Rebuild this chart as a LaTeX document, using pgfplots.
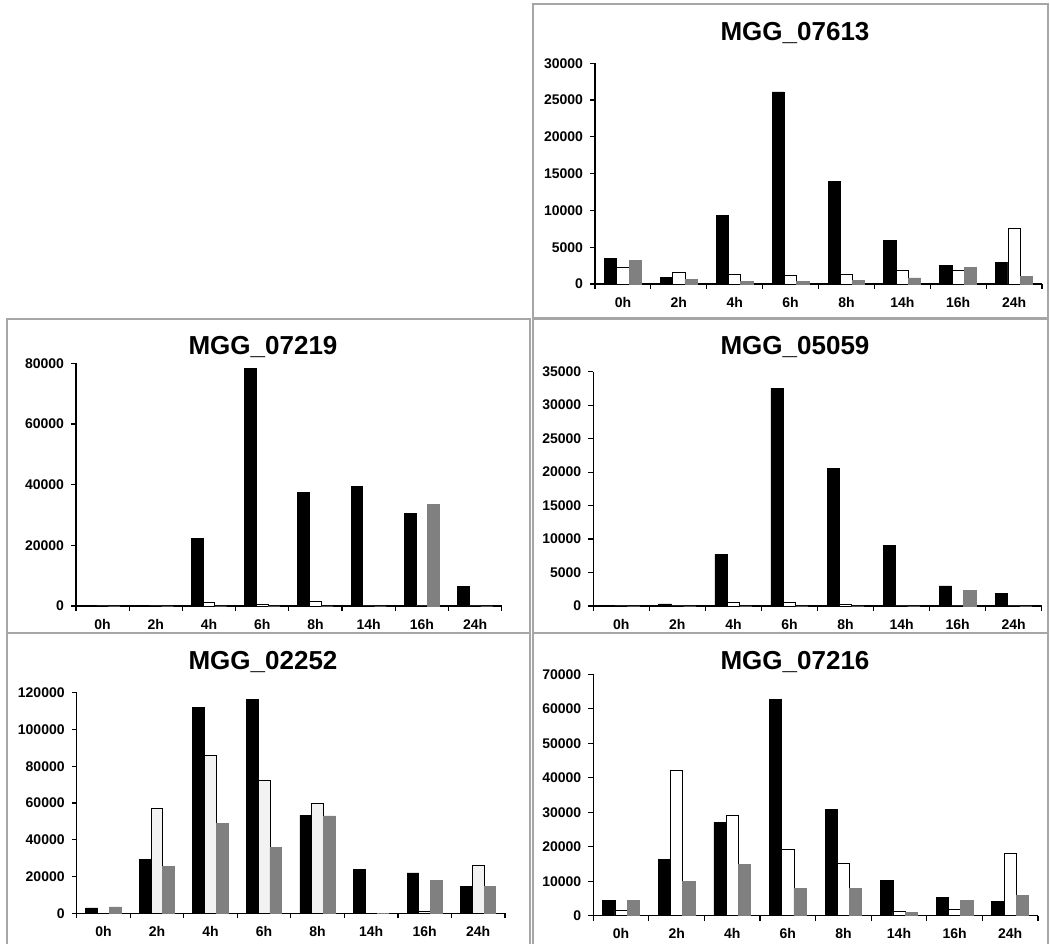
\documentclass[border=0pt]{standalone}
\usepackage{fontspec}
\setmainfont{Liberation Sans}
\usepackage{pgfplots}
\pgfplotsset{compat=1.18}
\definecolor{barGray}{HTML}{808080}
\definecolor{lightBar}{HTML}{F2F2F2}
\definecolor{frameGray}{HTML}{A6A6A6}

\pgfplotsset{
  panel/.style={
    scale only axis, anchor=south west,
    axis lines=left, axis line style={-, line width=0.75pt},
    xmin=-0.5, xmax=7.5, ymin=0,
    xtick={-0.5,0.5,...,7.5}, x tick label as interval,
    xticklabels={0h,2h,4h,6h,8h,14h,16h,24h},
    tick align=outside, major tick length=2.5pt,
    tick style={black, line width=0.6pt},
    ticklabel style={font=\bfseries\fontsize{7}{8}\selectfont, text=black},
    xticklabel style={yshift=-0.5pt},
    scaled y ticks=false,
    yticklabel style={/pgf/number format/fixed, /pgf/number format/precision=0,
      /pgf/number format/1000 sep={}, /pgf/number format/assume math mode=true},
    ybar, bar width=0.22, clip=false,
  },
  blk/.style={fill=black, draw=black, line width=0.4pt, bar shift=-0.22},
  wht/.style={fill=white, draw=black, line width=0.4pt, bar shift=0},
  gry/.style={fill=barGray, draw=barGray, line width=0.4pt, bar shift=0.22},
}

\begin{document}
\begin{tikzpicture}
\path[use as bounding box] (0,0) rectangle (525pt,471.5pt);

% MGG_07613
\begin{axis}[panel, at={(297.5pt,329.5pt)}, width=223.5pt, height=110.35pt,
  ymax=30000, ytick={0,5000,...,30000}]
\addplot[blk] coordinates {(0,3500)(1,860)(2,9290)(3,26100)(4,13910)(5,5890)(6,2580)(7,2900)};
\addplot[wht] coordinates {(0,2220)(1,1540)(2,1360)(3,1220)(4,1360)(5,1810)(6,1810)(7,7610)};
\addplot[gry] coordinates {(0,3170)(1,630)(2,320)(3,320)(4,540)(5,820)(6,2310)(7,1000)};
\end{axis}

% MGG_07219
\begin{axis}[panel, at={(38pt,168.5pt)}, width=212.85pt, height=121.35pt,
  ymax=80000, ytick={0,20000,...,80000}]
\addplot[blk] coordinates {(0,0)(1,0)(2,22300)(3,78350)(4,37470)(5,39340)(6,30550)(7,6370)};
\addplot[wht] coordinates {(0,0)(1,0)(2,1100)(3,550)(4,1430)(5,0)(6,0)(7,0)};
\addplot[gry] coordinates {(0,0)(1,0)(2,0)(3,0)(4,0)(5,0)(6,33500)(7,0)};
\end{axis}

% MGG_05059
\begin{axis}[panel, at={(296.65pt,168.5pt)}, width=224.2pt, height=117.15pt,
  ymax=35000, ytick={0,5000,...,35000}]
\addplot[blk] coordinates {(0,0)(1,300)(2,7720)(3,32510)(4,20610)(5,9010)(6,2990)(7,1840)};
\addplot[wht] coordinates {(0,0)(1,0)(2,550)(3,550)(4,300)(5,0)(6,0)(7,0)};
\addplot[gry] coordinates {(0,0)(1,0)(2,0)(3,0)(4,0)(5,0)(6,2290)(7,0)};
\end{axis}

% MGG_02252
\begin{axis}[panel, at={(38.35pt,14.85pt)}, width=214.15pt, height=110.3pt,
  ymax=120000, ytick={0,20000,...,120000}]
\addplot[blk] coordinates {(0,2900)(1,29180)(2,111840)(3,116370)(4,53470)(5,23750)(6,21930)(7,14680)};
\addplot[wht, fill=lightBar] coordinates {(0,0)(1,56900)(2,86100)(3,72330)(4,59640)(5,0)(6,1270)(7,26100)};
\addplot[gry] coordinates {(0,3440)(1,25560)(2,48760)(3,35710)(4,52930)(5,0)(6,17760)(7,14680)};
\end{axis}

% MGG_07216
\begin{axis}[panel, at={(296.65pt,13.65pt)}, width=222.35pt, height=120.7pt,
  ymax=70000, ytick={0,10000,...,70000}]
\addplot[blk] coordinates {(0,4450)(1,16440)(2,26980)(3,62750)(4,30840)(5,10150)(6,5320)(7,4160)};
\addplot[wht] coordinates {(0,1550)(1,42150)(2,29100)(3,19340)(4,15080)(5,1160)(6,1930)(7,18080)};
\addplot[gry] coordinates {(0,4450)(1,9860)(2,14890)(3,7930)(4,7930)(5,870)(6,4450)(7,5800)};
\end{axis}

\begin{scope}[font=\bfseries\fontsize{13}{15}\selectfont]
\node at (397.5pt,455pt) {MGG\_07613};
\node at (131.5pt,298pt) {MGG\_07219};
\node at (397.5pt,298pt) {MGG\_05059};
\node at (131.5pt,140.65pt) {MGG\_02252};
\node at (397.5pt,140.65pt) {MGG\_07216};
\end{scope}

\begin{scope}[frameGray, line width=0.6pt]
\draw (266.5pt,312.5pt) rectangle (524pt,469.5pt);
\draw (3.5pt,155pt) rectangle (265pt,312pt);
\draw (266.5pt,155pt) rectangle (524pt,312pt);
\draw (3.5pt,-1pt) rectangle (265pt,155pt);
\draw (266.5pt,-1pt) rectangle (524pt,155pt);
\end{scope}
\end{tikzpicture}
\end{document}
